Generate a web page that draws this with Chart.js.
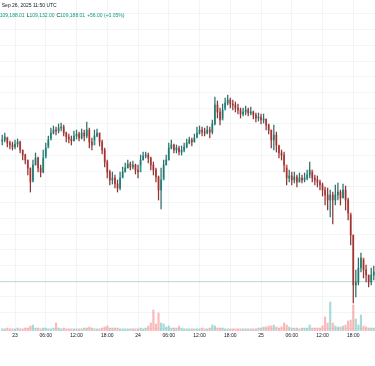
<!DOCTYPE html>
<html>
<head>
<meta charset="utf-8">
<script src="https://cdn.jsdelivr.net/npm/chart.js@4.4.1/dist/chart.umd.min.js"></script>
<style>
  html, body { margin: 0; padding: 0; background: #fff; }
  #wrap { position: relative; width: 375px; height: 366px; overflow: hidden; }
  .hdr { position: absolute; white-space: nowrap; font-family: "Liberation Sans", Arial, sans-serif;
         font-size: 5px; line-height: 6px; color: #131722; }
  .hdr span { margin-right: 2px; }
  .up { color: #089981; }
</style>
</head>
<body>
<div id="wrap">
  <canvas id="chart" width="375" height="366"></canvas>
  <div class="hdr" style="left:-1px; top:2px;">, Sep 26, 2025 11:50 UTC</div>
  <div class="hdr" style="left:-4px; top:12px;">
    <span>H<i class="up" style="font-style:normal">109,188.01</i></span><span>L<i class="up" style="font-style:normal">109,132.00</i></span><span>C<i class="up" style="font-style:normal">109,188.01</i></span><span class="up">+56.00 (+0.05%)</span>
  </div>
</div>
<script>
// 30 minute candles, hours counted from Sep 23 00:00 UTC
const startHour = -2.5;
const stepHours = 0.5;
const firstOpen = 112767;
const lastPrice = 109188.01;

const closes = [
  112792, 112868, 112716, 112665, 112614, 112690, 112741, 112537, 112410, 112283,
  112080, 111724, 112156, 112334, 112080, 111978, 112334, 112588, 112792, 112970,
  113046, 113021, 113097, 113122, 112970, 112868, 112817, 112767, 112894, 112944,
  112843, 112970, 112894, 113046, 112741, 112665, 112894, 112970, 112741, 112537,
  112232, 111978, 111775, 111826, 111673, 111571, 111826, 111978, 112080, 112181,
  112105, 112156, 112029, 111978, 112283, 112385, 112410, 112334, 112156, 112029,
  111851, 111520, 111775, 112156, 112283, 112588, 112665, 112537, 112588, 112486,
  112537, 112614, 112716, 112792, 112741, 112843, 112970, 113046, 112995, 112970,
  113046, 112995, 113198, 113682, 113504, 113300, 113555, 113733, 113809, 113707,
  113682, 113606, 113555, 113453, 113504, 113555, 113478, 113504, 113428, 113351,
  113376, 113300, 113326, 113173, 113046, 112792, 112919, 112665, 112461, 112410,
  112156, 111826, 111877, 111775, 111851, 111724, 111826, 111775, 111826, 111902,
  112029, 111826, 111775, 111724, 111648, 111520, 111393, 111266, 111393, 111266,
  111393, 111469, 111317, 111520, 111266, 110936, 110376, 109105, 109181, 109537,
  109791, 109486, 109359, 109181, 109359, 109435
];
const highs = [
  112919, 112970, 112843, 112767, 112741, 112792, 112817, 112767, 112537, 112436,
  112283, 112080, 112283, 112461, 112359, 112156, 112537, 112716, 112894, 113097,
  113148, 113122, 113198, 113224, 113173, 112995, 112944, 112894, 113021, 113046,
  112995, 113071, 113046, 113249, 113097, 112843, 113046, 113071, 112970, 112792,
  112588, 112283, 112029, 111978, 111902, 111775, 111978, 112105, 112207, 112283,
  112232, 112258, 112181, 112156, 112410, 112486, 112486, 112461, 112359, 112232,
  112080, 111877, 112080, 112283, 112410, 112716, 112792, 112690, 112665, 112639,
  112639, 112716, 112817, 112868, 112843, 112944, 113122, 113148, 113122, 113097,
  113148, 113122, 113300, 113885, 113784, 113606, 113707, 113860, 113936, 113860,
  113809, 113758, 113707, 113606, 113606, 113656, 113606, 113631, 113529, 113478,
  113478, 113453, 113453, 113326, 113198, 113046, 113173, 112995, 112639, 112537,
  112486, 112080, 112029, 111978, 111978, 111902, 111953, 111902, 111953, 112029,
  112232, 111978, 111902, 111877, 111775, 111698, 111597, 111571, 111520, 111469,
  111648, 111698, 111520, 111673, 111622, 111317, 110885, 110376, 109486, 109791,
  109918, 109740, 109613, 109359, 109537, 109588
];
const lows = [
  112665, 112741, 112614, 112563, 112537, 112563, 112614, 112461, 112283, 112181,
  111902, 111469, 111775, 112156, 111978, 111851, 111953, 112385, 112639, 112843,
  112944, 112919, 112970, 113021, 112894, 112741, 112716, 112665, 112767, 112817,
  112767, 112817, 112767, 112843, 112588, 112537, 112792, 112868, 112639, 112436,
  112105, 111826, 111648, 111673, 111571, 111469, 111520, 111851, 111978, 112080,
  112029, 112054, 111927, 111826, 112156, 112283, 112334, 112207, 112029, 111902,
  111724, 111266, 111037, 111826, 112156, 112283, 112563, 112461, 112461, 112410,
  112410, 112486, 112588, 112690, 112639, 112741, 112868, 112944, 112894, 112894,
  112944, 112843, 112944, 113173, 113351, 113173, 113351, 113606, 113682, 113606,
  113555, 113504, 113453, 113351, 113402, 113428, 113402, 113428, 113326, 113249,
  113275, 113198, 113224, 113046, 112944, 112588, 112537, 112486, 112334, 112283,
  111978, 111648, 111724, 111648, 111698, 111597, 111724, 111698, 111724, 111775,
  111826, 111724, 111648, 111597, 111520, 111368, 111139, 111012, 110834, 110655,
  111139, 111266, 111139, 111317, 111012, 110757, 110122, 108647, 108799, 109105,
  109435, 109283, 109181, 109054, 109105, 109232
];
const volumes = [
  40, 40, 60, 40, 40, 40, 60, 40, 40, 60, 60,
  100, 120, 60, 60, 40, 60, 60, 40, 40, 60,
  160, 60, 40, 60, 40, 40, 40, 40, 40, 40,
  40, 60, 60, 80, 60, 40, 40, 40, 60, 80,
  100, 60, 60, 60, 60, 40, 40, 40, 40, 40,
  40, 40, 40, 60, 40, 60, 100, 160, 420, 140,
  360, 160, 140, 80, 100, 60, 60, 60, 100, 60,
  40, 40, 40, 40, 40, 40, 40, 60, 40, 40,
  60, 120, 100, 60, 60, 60, 40, 40, 40, 40,
  40, 40, 40, 40, 40, 40, 40, 40, 40, 60,
  60, 80, 80, 100, 100, 120, 80, 60, 80, 160,
  120, 80, 60, 60, 60, 40, 60, 60, 60, 120,
  60, 60, 60, 60, 100, 280, 160, 580, 160, 100,
  80, 80, 100, 120, 200, 220, 520, 240, 120, 320,
  100, 80, 60, 60, 60
];

const tickHours = [0, 6, 12, 18, 24, 30, 36, 42, 48, 54, 60, 66];
const tickLabels = ['23', '06:00', '12:00', '18:00', '24', '06:00', '12:00', '18:00', '25', '06:00', '12:00', '18:00'];

const UP = '#26a69a', DOWN = '#ef5350';
const UP_WICK = '#2f6f69', DOWN_WICK = '#8a3836';
const UP_VOL = 'rgba(38,166,154,0.4)', DOWN_VOL = 'rgba(239,83,80,0.4)';
const GRID = '#f3f4f6';

const times = closes.map((_, i) => startHour + i * stepHours);
const opens = closes.map((c, i) => i === 0 ? firstOpen : closes[i - 1]);
const isUp = closes.map((c, i) => c >= opens[i]);

const ctx = document.getElementById('chart').getContext('2d');
new Chart(ctx, {
  type: 'bar',
  data: {
    datasets: [
      {
        type: 'line',
        data: [{ x: -2.93, y: lastPrice }, { x: 70.24, y: lastPrice }],
        borderColor: 'rgba(38,166,154,0.3)',
        borderWidth: 1,
        pointRadius: 0,
        order: 5,
      },
      {
        label: 'volume',
        yAxisID: 'vol',
        data: times.map((t, i) => ({ x: t, y: volumes[i] })),
        backgroundColor: isUp.map(u => u ? UP_VOL : DOWN_VOL),
        barThickness: 1.5,
        grouped: false,
        order: 4,
      },
      {
        label: 'body',
        data: times.map((t, i) => ({ x: t, y: [opens[i], closes[i]] })),
        backgroundColor: isUp.map(u => u ? UP : DOWN),
        barThickness: 1.2,
        minBarLength: 1,
        grouped: false,
        order: 2,
      },
      {
        label: 'wick',
        data: times.map((t, i) => ({ x: t, y: [lows[i], highs[i]] })),
        backgroundColor: isUp.map(u => u ? UP_WICK : DOWN_WICK),
        barThickness: 0.6,
        grouped: false,
        order: 1,
      },
    ],
  },
  options: {
    responsive: false,
    animation: false,
    devicePixelRatio: 1,
    layout: { padding: 0 },
    plugins: { legend: { display: false }, tooltip: { enabled: false } },
    scales: {
      x: {
        type: 'linear',
        min: -2.93,
        max: 70.24,
        offset: false,
        grid: { color: GRID, drawTicks: false, offset: false },
        border: { display: false },
        afterBuildTicks: (scale) => { scale.ticks = tickHours.map(v => ({ value: v })); },
        afterFit: (scale) => { scale.height = 35; },
        ticks: {
          autoSkip: false,
          maxRotation: 0,
          padding: 2,
          color: '#131722',
          font: { family: '"Liberation Sans", Arial, sans-serif', size: 5 },
          callback: (v) => tickLabels[tickHours.indexOf(v)],
        },
      },
      y: {
        position: 'right',
        min: 107935,
        max: 116352,
        grid: { color: GRID, drawTicks: false },
        border: { display: false },
        ticks: { display: false },
        afterBuildTicks: (scale) => {
          const t = [];
          for (let v = Math.ceil(scale.min / 400) * 400; v <= scale.max; v += 400) t.push({ value: v });
          scale.ticks = t;
        },
        afterFit: (scale) => { scale.width = 0; },
      },
      vol: {
        display: false,
        min: 0,
        max: 6620,
      },
    },
  },
});
</script>
</body>
</html>
